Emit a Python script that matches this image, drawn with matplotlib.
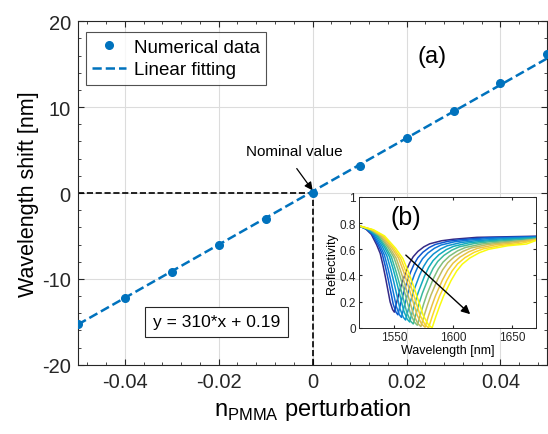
import numpy as np
import matplotlib
matplotlib.use("Agg")
import matplotlib.pyplot as plt
from matplotlib.colors import LinearSegmentedColormap
from matplotlib.ticker import AutoMinorLocator

plt.rcParams["font.family"] = ["Liberation Sans", "DejaVu Sans"]

# main panel: wavelength shift vs PMMA index perturbation
dn = [-0.05, -0.04, -0.03, -0.02, -0.01, 0.0, 0.01, 0.02, 0.03, 0.04, 0.05]
shift_nm = [-15.2, -12.2, -9.2, -6.1, -3.0, 0.0, 3.2, 6.4, 9.6, 12.8, 16.2]
fit_slope = 310
fit_offset = 0.19

# inset: reflectivity spectra, one per perturbation step
dip_wl = [1550, 1553, 1556, 1559.5, 1563, 1566, 1569.5, 1572.5, 1576, 1579, 1582]
dip_min = [0.12, 0.10, 0.08, 0.06, 0.045, 0.03, 0.02, 0.01, 0.005, 0.0, 0.0]
plateau = [0.70, 0.697, 0.694, 0.69, 0.687, 0.684, 0.68, 0.677, 0.674, 0.67, 0.667]
right_width = [1.0, 1.06, 1.12, 1.18, 1.24, 1.3, 1.36, 1.42, 1.48, 1.54, 1.6]
wl_start, wl_end, r_start = 1520, 1670, 0.78
# shape of the falling edge (fraction of the way to the dip) and rising edge (nm past the dip)
left_u = [0.0, 0.2, 0.35, 0.5, 0.6, 0.68, 0.75, 0.82, 0.88, 0.95, 1.0]
left_f = [1.0, 0.96, 0.9, 0.78, 0.68, 0.54, 0.40, 0.25, 0.12, 0.03, 0.0]
right_d = [2, 4, 6, 8, 10, 13, 16, 20, 25, 30, 40, 50, 70]
right_f = [0.13, 0.25, 0.36, 0.45, 0.54, 0.65, 0.73, 0.8, 0.86, 0.9, 0.94, 0.96, 0.985]

parula = LinearSegmentedColormap.from_list(
    "parula_like",
    ["#352A87", "#0363E1", "#1485D4", "#06A7C6", "#38B99E",
     "#92BF73", "#D9BA56", "#FCCE2E", "#F9FB0E"],
)

fig = plt.figure(figsize=(5.48, 4.35), dpi=100)
ax = fig.add_axes([0.142, 0.159, 0.857, 0.790])

ax.plot(dn, shift_nm, "o", color="#0072BD", markersize=5.5, label="Numerical data", zorder=4)
x_fit = np.array([-0.05, 0.05])
ax.plot(x_fit, fit_slope * x_fit + fit_offset, "--", color="#0072BD", lw=1.8,
        label="Linear fitting", zorder=3)

ax.plot([-0.05, 0], [0, 0], "--", color="black", lw=1.2, zorder=2)
ax.plot([0, 0], [-20, 0], "--", color="black", lw=1.2, zorder=2)

ax.set_xlim(-0.05, 0.05)
ax.set_ylim(-20, 20)
ax.set_xticks([-0.04, -0.02, 0, 0.02, 0.04])
ax.set_xticklabels(["-0.04", "-0.02", "0", "0.02", "0.04"])
ax.set_yticks([-20, -10, 0, 10, 20])
ax.set_yticklabels(["-20", "-10", "0", "10", "20"])
ax.xaxis.set_minor_locator(AutoMinorLocator(5))
ax.yaxis.set_minor_locator(AutoMinorLocator(5))
ax.tick_params(which="both", direction="in", top=True, right=True, labelsize=14.5, colors="#262626")
ax.tick_params(which="major", length=4, pad=5)
ax.tick_params(which="minor", length=2)
ax.grid(True, which="major", color="#dcdcdc", lw=0.8)
for sp in ax.spines.values():
    sp.set_color("#262626")
    sp.set_linewidth(0.8)

ax.set_xlabel(r"n$_{\mathregular{PMMA}}$ perturbation", fontsize=17, labelpad=4)
ax.set_ylabel("Wavelength shift [nm]", fontsize=15.5, labelpad=2)

leg = ax.legend(loc="upper left", fontsize=13.5, frameon=True, fancybox=False,
                edgecolor="#262626", handlelength=1.8, borderpad=0.35, handletextpad=0.4,
                labelspacing=0.3, borderaxespad=0.3, bbox_to_anchor=(0.005, 0.985))
leg.get_frame().set_linewidth(0.8)

ax.text(0.0255, 15.9, "(a)", fontsize=17, ha="center", va="center")
ax.annotate("Nominal value", xy=(0, 0.3), xytext=(-0.004, 4.9), fontsize=11,
            ha="center", va="center",
            arrowprops=dict(arrowstyle="-|>", color="black", lw=0.9,
                            mutation_scale=12, shrinkA=7, shrinkB=0,
                            relpos=(0.45, 0.0)))
ax.text(-0.0205, -15.0, f"y = {fit_slope}*x + {fit_offset}", fontsize=12.5,
        ha="center", va="center",
        bbox=dict(boxstyle="square,pad=0.45", fc="white", ec="#262626", lw=0.8))

# inset with the reflectivity spectra
axin = fig.add_axes([0.655, 0.244, 0.323, 0.301])
colors = parula(np.linspace(0, 1, len(dip_wl)))
for c, m, p, w, col in zip(dip_wl, dip_min, plateau, right_width, colors):
    wl_left = [wl_start + (c - wl_start) * u for u in left_u]
    r_left = [m + (r_start - m) * f for f in left_f]
    wl_right = [c + d * w for d in right_d]
    r_right = [m + (p - m) * f for f in right_f]
    keep = [i for i, x in enumerate(wl_right) if x < wl_end]
    wl = wl_left + [wl_right[i] for i in keep] + [wl_end]
    r = r_left + [r_right[i] for i in keep] + [p]
    axin.plot(wl, r, color=col, lw=1.1)

axin.set_xlim(wl_start, wl_end)
axin.set_ylim(0, 1)
axin.set_xticks([1550, 1600, 1650])
axin.set_yticks([0, 0.2, 0.4, 0.6, 0.8, 1])
axin.set_yticklabels(["0", "0.2", "0.4", "0.6", "0.8", "1"])
axin.tick_params(direction="in", top=True, right=True, labelsize=8.5, length=2.5, pad=2,
                 colors="#262626")
for sp in axin.spines.values():
    sp.set_color("#262626")
    sp.set_linewidth(0.7)
axin.set_xlabel("Wavelength [nm]", fontsize=9, labelpad=1)
axin.set_ylabel("Reflectivity", fontsize=9, labelpad=1)
axin.text(1560, 0.85, "(b)", fontsize=18, ha="center", va="center")
axin.annotate("", xy=(1616, 0.09), xytext=(1558, 0.57),
              arrowprops=dict(arrowstyle="-|>", color="black", lw=1.0, mutation_scale=13))

fig.savefig("out.png", dpi=100)
